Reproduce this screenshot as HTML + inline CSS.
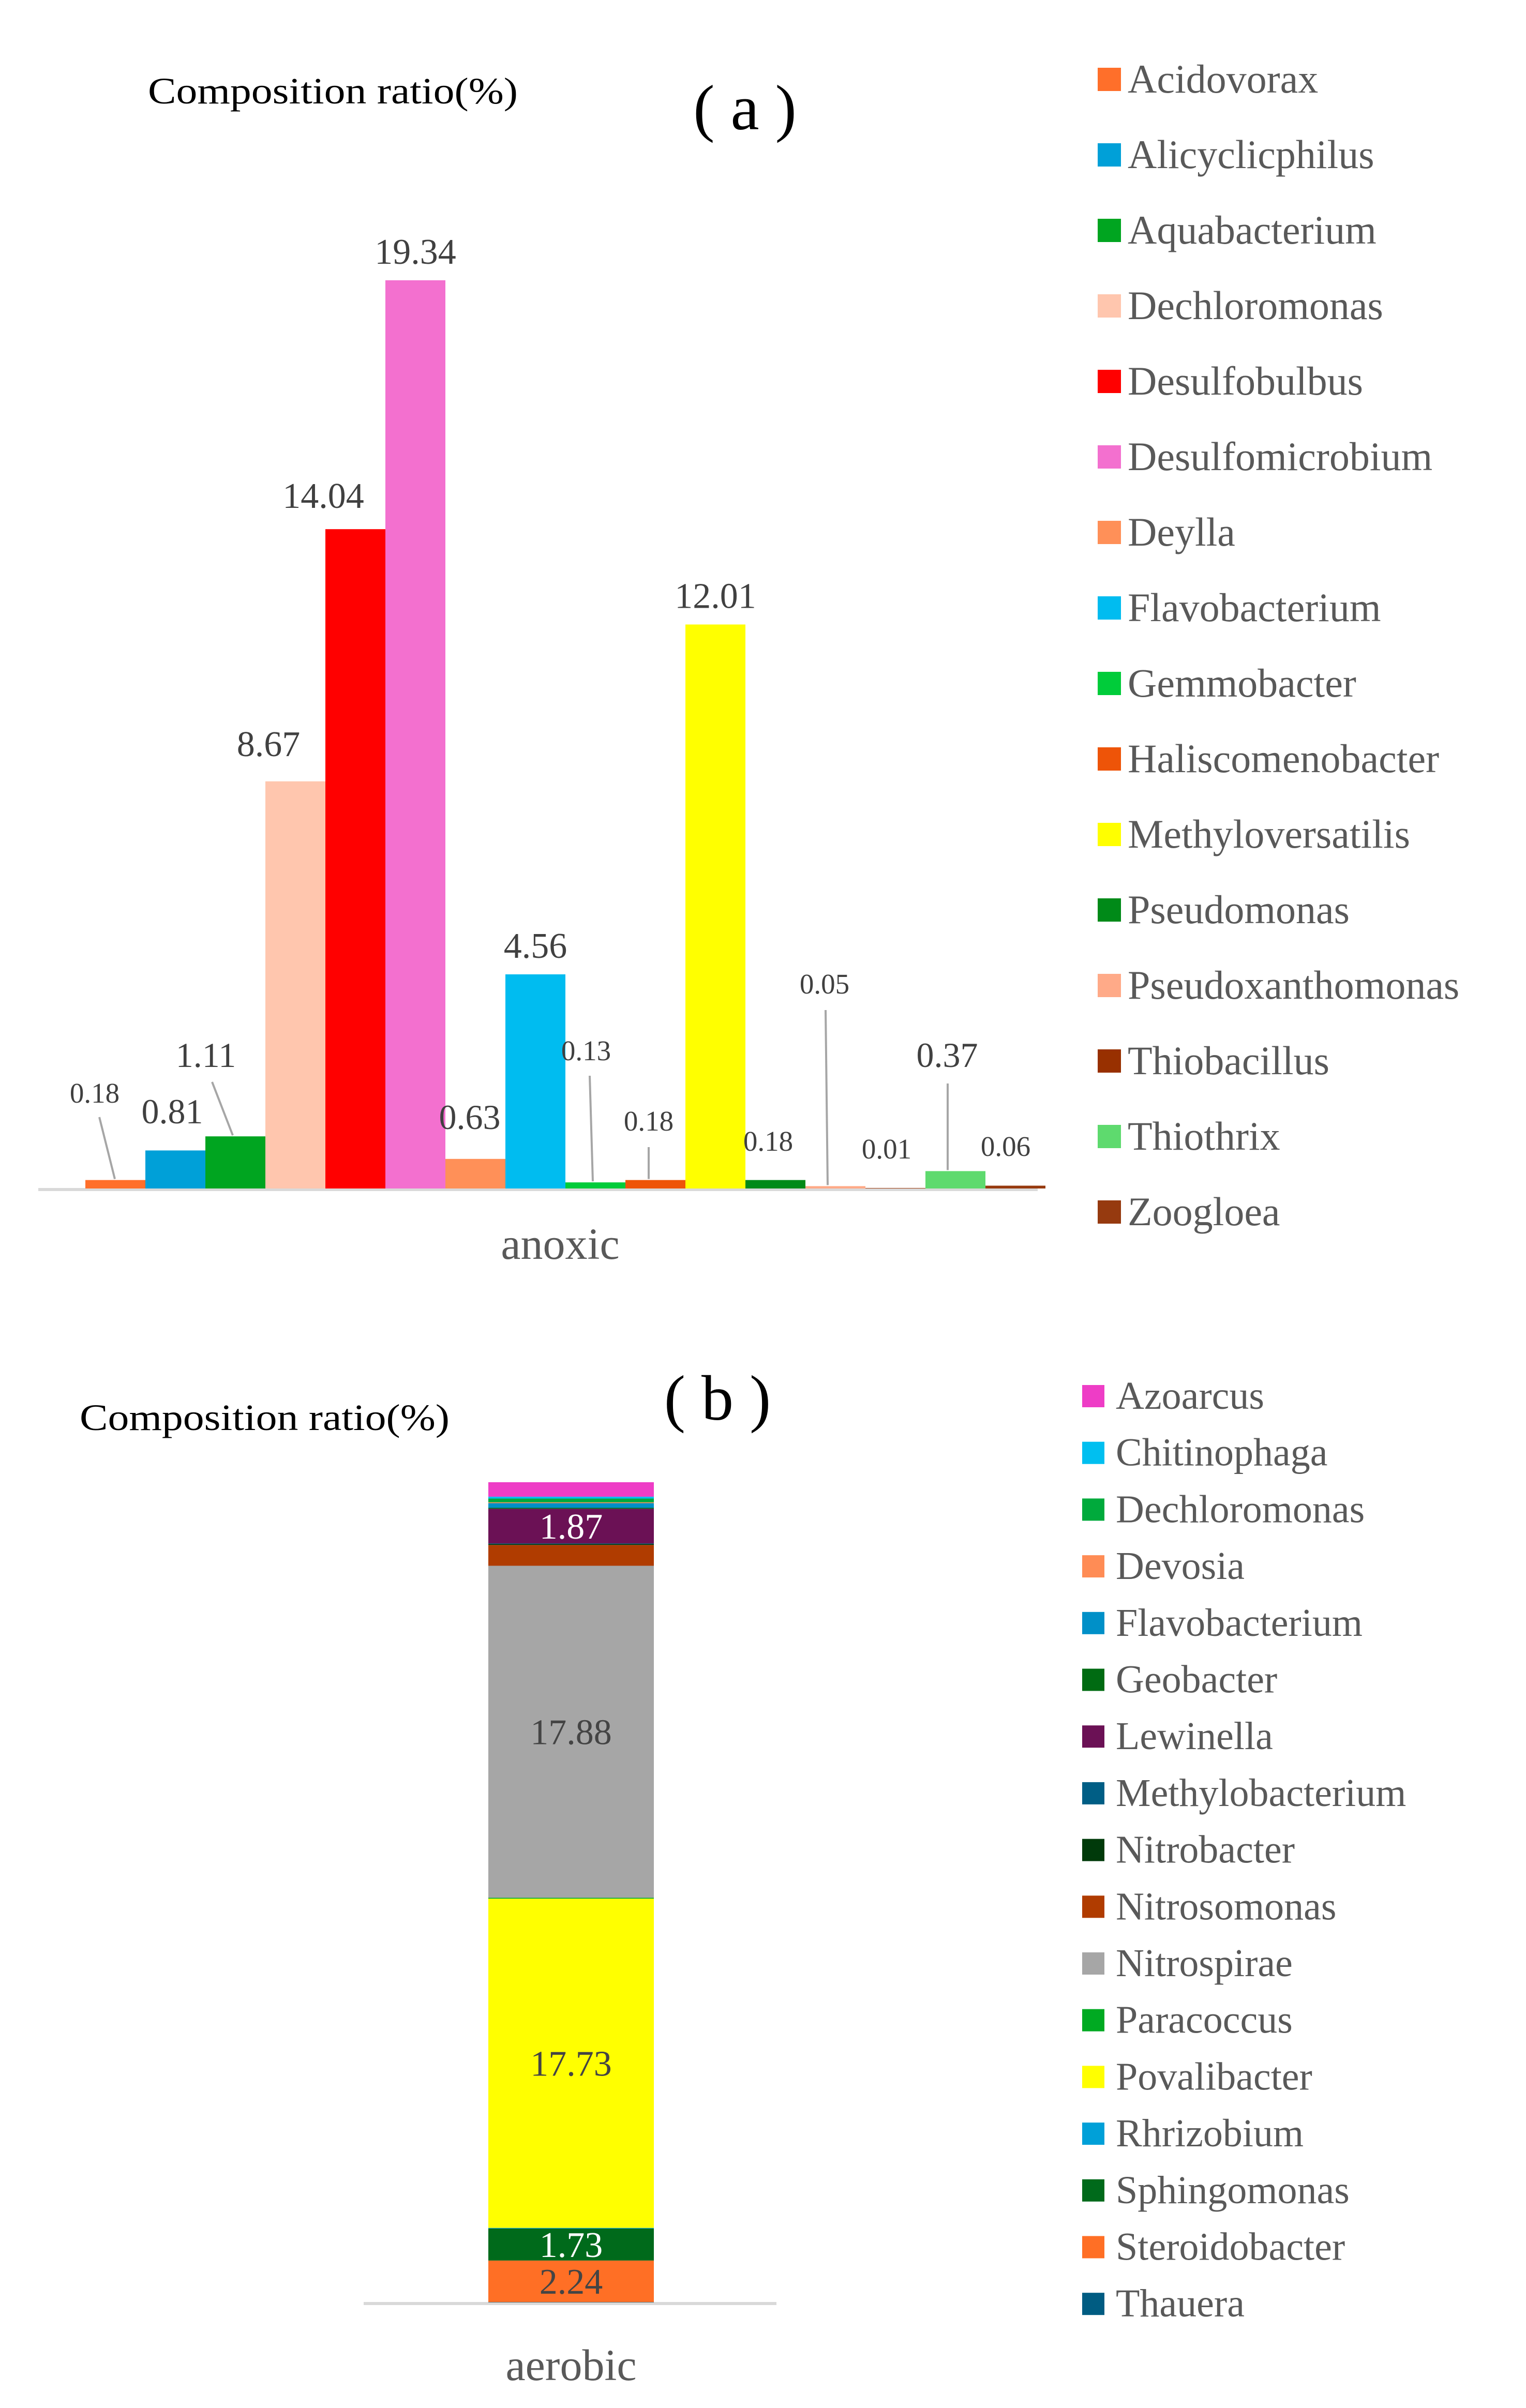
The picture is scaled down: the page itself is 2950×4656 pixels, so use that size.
<!DOCTYPE html>
<html><head><meta charset="utf-8">
<style>
html,body{margin:0;padding:0;background:#fff;}
svg{display:block;font-family:"Liberation Serif",serif;}
</style></head>
<body>
<svg id="chart" width="2950" height="4656" viewBox="0 0 2950 4656" xmlns="http://www.w3.org/2000/svg">
<rect width="2950" height="4656" fill="#fff"/>
<text x="286" y="200" font-size="72" fill="#000" textLength="715" lengthAdjust="spacingAndGlyphs">Composition ratio(%)</text>
<text x="1440" y="250" font-size="124" fill="#000" text-anchor="middle">( a )</text>
<text x="154" y="2765" font-size="72" fill="#000" textLength="715" lengthAdjust="spacingAndGlyphs">Composition ratio(%)</text>
<text x="1387" y="2745" font-size="124" fill="#000" text-anchor="middle">( b )</text>
<g id="ga"></g>
<g id="gb"></g>
</svg>
<script>
const catA = ["Acidovorax","Alicyclicphilus","Aquabacterium","Dechloromonas","Desulfobulbus","Desulfomicrobium","Deylla","Flavobacterium","Gemmobacter","Haliscomenobacter","Methyloversatilis","Pseudomonas","Pseudoxanthomonas","Thiobacillus","Thiothrix","Zoogloea"];
const valA = [0.18,0.81,1.11,8.67,14.04,19.34,0.63,4.56,0.13,0.18,12.01,0.18,0.05,0.01,0.37,0.06];
const colA = ["#FF6F2A","#00A0D8","#00A520","#FFC6AE","#FF0000","#F370CF","#FF9058","#00BCF0","#00CC3A","#EE5408","#FFFF00","#008A18","#FFAA88","#983000","#5EDA6E","#963A0F"];
const catB = ["Azoarcus","Chitinophaga","Dechloromonas","Devosia","Flavobacterium","Geobacter","Lewinella","Methylobacterium","Nitrobacter","Nitrosomonas","Nitrospirae","Paracoccus","Povalibacter","Rhrizobium","Sphingomonas","Steroidobacter","Thauera"];
const valB = [0.78,0.1,0.2,0.05,0.25,0.05,1.87,0.03,0.05,1.12,17.88,0.05,17.73,0.03,1.73,2.24,0.02];
const colB = ["#EE3DC6","#00BFF0","#00AA3C","#FF8C55","#0090C8","#006B12","#6B1155","#005E85","#003A0A","#B03C00","#A6A6A6","#00AA22","#FFFF00","#00A0D8","#006A1B","#FF6F25","#005C82"];
const labB = ["","","","","","","1.87","","","","17.88","","17.73","","1.73","2.24",""];
const labBcol = ["","","","","","","#fff","","","","#444","","#444","","#fff","#444",""];

const NS="http://www.w3.org/2000/svg";
function mk(parent,tag,attrs){const e=document.createElementNS(NS,tag);for(const k in attrs)e.setAttribute(k,attrs[k]);parent.appendChild(e);return e;}

const ga=document.getElementById('ga');
const baseA=2298, unitA=90.8, x0A=165, bwA=116;
const yA=v=>baseA-v*unitA;
const xA=i=>x0A+i*bwA;
const ax=mk(ga,'line',{x1:74,x2:2006,y1:baseA+2,y2:baseA+2,stroke:'#d9d9d9','stroke-width':6});


const labelLayout=[
 {lx:183,ly:2132,fs:55,lead:[192,2160,222,2282]},
 {lx:333,ly:2172,fs:68},
 {lx:398,ly:2063,fs:68,lead:[410,2092,450,2182]},
 {lx:519,ly:1462,fs:70},
 {lx:625,ly:982,fs:70},
 null,
 {lx:908,ly:2183,fs:68},
 null,
 {lx:1133,ly:2050,fs:55,lead:[1140,2080,1146,2288]},
 {lx:1254,ly:2186,fs:55,lead:[1254,2218,1254,2282]},
 null,
 {lx:1485,ly:2225,fs:55},
 {lx:1594,ly:1921,fs:55,lead:[1596,1953,1600,2292]},
 {lx:1714,ly:2240,fs:55},
 {lx:1831,ly:2063,fs:68,lead:[1832,2095,1832,2254]},
 {lx:1944,ly:2235,fs:55}
];
valA.forEach((v,i)=>{
  const r=mk(ga,'rect',{x:xA(i),y:yA(v),width:bwA,height:v*unitA,fill:colA[i]});
  
  
  const L=labelLayout[i];
  let tx,ty,fs;
  if(L){tx=L.lx;ty=L.ly;fs=L.fs;
    if(L.lead){const ln=mk(ga,'line',{x1:L.lead[0],y1:L.lead[1],x2:L.lead[2],y2:yA(v)-2,stroke:'#a6a6a6','stroke-width':4});
      
      }
  } else {tx=xA(i)+bwA/2;ty=yA(v)-32;fs=70;}
  const t=mk(ga,'text',{x:tx,y:ty,'font-size':fs,fill:'#404040','text-anchor':'middle'});
  t.textContent=v.toFixed(2);
  
  
});
const xl=mk(ga,'text',{x:1083,y:2434,'font-size':86,fill:'#595959','text-anchor':'middle'});
xl.textContent='anoxic';


catA.forEach((c,i)=>{
  const y=153+i*146;
  const g=mk(ga,'g',{});
  
  
  mk(g,'rect',{x:2122,y:y-22,width:45,height:45,fill:colA[i]});
  const t=mk(g,'text',{x:2180,y:y+26,'font-size':78,fill:'#595959'});
  t.textContent=c;
});

const gb=document.getElementById('gb');
const baseB=4452, unitB=35.9, xB=944, bwB=320;
const axb=mk(gb,'line',{x1:703,x2:1501,y1:baseB+2,y2:baseB+2,stroke:'#d9d9d9','stroke-width':6});


let cum=0;
for(let i=valB.length-1;i>=0;i--){
  const v=valB[i];
  const y1=baseB-cum*unitB, h=v*unitB;
  const r=mk(gb,'rect',{x:xB,y:y1-h,width:bwB,height:h,fill:colB[i]});
  
  
  if(labB[i]){
    const t=mk(gb,'text',{x:xB+bwB/2,y:y1-h/2+24,'font-size':70,fill:labBcol[i],'text-anchor':'middle'});
    t.textContent=labB[i];
    
    
  }
  cum+=v;
}
const xlb=mk(gb,'text',{x:1104,y:4602,'font-size':86,fill:'#595959','text-anchor':'middle'});
xlb.textContent='aerobic';


catB.forEach((c,i)=>{
  const y=2699+i*109.7;
  const g=mk(gb,'g',{});
  
  
  mk(g,'rect',{x:2092,y:y-21,width:43,height:43,fill:colB[i]});
  const t=mk(g,'text',{x:2157,y:y+25,'font-size':76,fill:'#595959'});
  t.textContent=c;
});
</script>
</body></html>
